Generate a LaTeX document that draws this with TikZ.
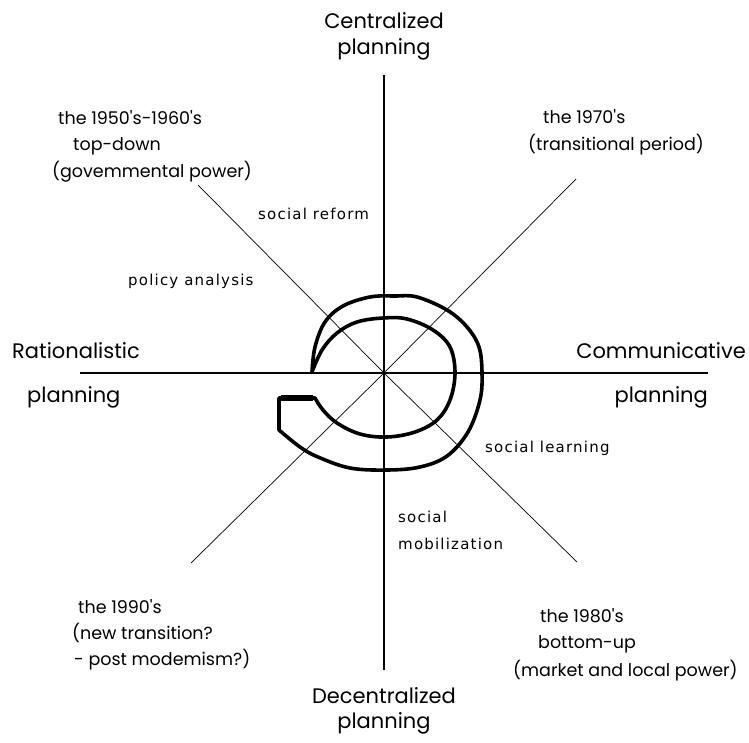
\documentclass[tikz,border=0pt]{standalone}
\usepackage{fontspec}
\newfontfamily\handfont{Poppins}
\newfontfamily\smallfont[LetterSpace=8]{DejaVu Sans}
\begin{document}
\begin{tikzpicture}[x=1pt,y=-1pt,
  axis/.style={line width=2.6pt},
  diag/.style={line width=0.7pt},
  spiral/.style={line width=3.6pt,line join=round},
  big/.style={inner sep=0pt,font=\handfont\fontsize{21}{23}\selectfont},
  period/.style={inner sep=0pt,anchor=base west,font=\handfont\fontsize{17.5}{19}\selectfont},
  lab/.style={inner sep=0pt,anchor=base west,font=\smallfont\fontsize{15}{17}\selectfont}]
\useasboundingbox (0,0) rectangle (749,742);
% coordinates
\coordinate (c) at (384,373);
\coordinate (top) at (384,75);
\coordinate (bot) at (384,670);
\coordinate (left) at (80,373);
\coordinate (right) at (708,373);
\coordinate (nw) at (198,185);
\coordinate (ne) at (576,179);
\coordinate (se) at (577,562);
\coordinate (sw) at (191,563);
% diagonals
\draw[diag] (nw) -- (c) -- (se);
\draw[diag] (sw) -- (c) -- (ne);
% axes
\draw[axis] (top) -- (bot);
\draw[axis] (left) -- (right);
% spiral
\draw[spiral] plot[smooth,tension=0.6] coordinates {(312,372) (315,347) (325,322) (343,306) (370,297) (395,296) (417,297) (447,310) (467,327) (479,347) (482,373) (480,400) (468,432) (447,456) (420,467) (387,470) (350,468) (318,457) (300,447) (279,430)}
  -- (279,398) -- (315,398)
  -- plot[smooth,tension=0.6] coordinates {(315,398) (323,410) (337,423) (360,434) (387,437) (415,432) (437,420) (450,400) (455,373) (450,347) (433,330) (407,319) (383,318) (357,322) (337,333) (322,350) (312,372)};
\draw[line width=6pt] (281,398) -- (313,398);
% axis labels
\node[big,anchor=base] (cen1) at (384,28) {Centralized};
\node[big,anchor=base] (cen2) at (384,54) {planning};
\node[big,anchor=base] (dec1) at (384,703) {Decentralized};
\node[big,anchor=base] (dec2) at (384,728) {planning};
\node[big,anchor=base west] (rat1) at (12,358) {Rationalistic};
\node[big,anchor=base west] (rat2) at (27,402) {planning};
\node[big,anchor=base east] (com1) at (746,358) {Communicative};
\node[big,anchor=base east] (com2) at (708,402) {planning};
% period labels
\node[period] (p50a) at (58,124) {the 1950's-1960's};
\node[period] (p50b) at (73,150) {top-down};
\node[period] (p50c) at (52,177) {(govemmental power)};
\node[period] (p70a) at (543,123) {the 1970's};
\node[period] (p70b) at (528,150) {(transitional period)};
\node[period] (p90a) at (78,613) {the 1990's};
\node[period] (p90b) at (72,639) {(new transition?};
\node[period] (p90c) at (74,665) {- post modemism?)};
\node[period] (p80a) at (540,622) {the 1980's};
\node[period] (p80b) at (538,648) {bottom-up};
\node[period] (p80c) at (513,676) {(market and local power)};
% approach labels
\node[lab] (sref) at (258,219) {social reform};
\node[lab] (pan) at (128,285) {policy analysis};
\node[lab] (slearn) at (485,452) {social learning};
\node[lab] (smob1) at (398,522) {social};
\node[lab] (smob2) at (398,549) {mobilization};
\end{tikzpicture}
\end{document}
